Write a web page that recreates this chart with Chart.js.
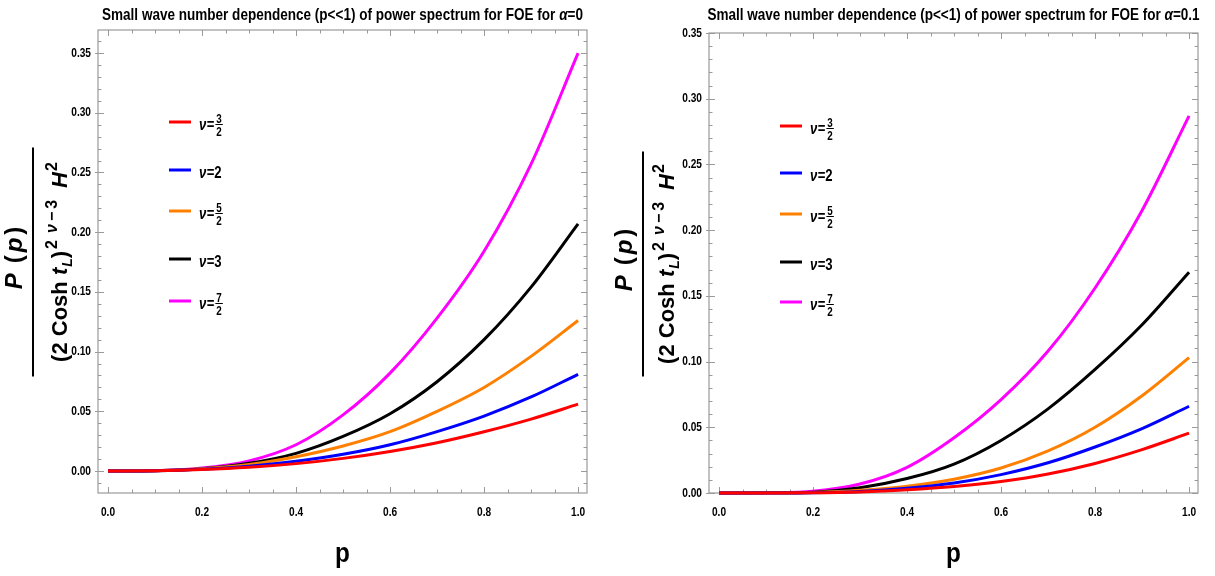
<!DOCTYPE html>
<html>
<head>
<meta charset="utf-8">
<script src="https://cdn.jsdelivr.net/npm/chart.js@4.4.1/dist/chart.umd.min.js"></script>
<style>
  html, body { margin: 0; padding: 0; background: #fff; }
  #wrap { position: relative; width: 1215px; height: 576px; overflow: hidden; }
  .panel { position: absolute; top: 0; }
</style>
</head>
<body>
<div id="wrap">
  <div class="panel" style="left:0"><canvas id="plotA" width="607" height="576"></canvas></div>
  <div class="panel" style="left:607px"><canvas id="plotB" width="608" height="576"></canvas></div>
</div>
<script>
// wave number p (both panels)
var pVals = [0, 0.1, 0.2, 0.3, 0.4, 0.5, 0.6, 0.7, 0.8, 0.9, 1.0];

// alpha = 0 (left panel)
var a0Nu32 = [0, 0.0002, 0.0012, 0.0031, 0.0062, 0.0106, 0.0164, 0.0237, 0.0329, 0.0435, 0.056];
var a0Nu2  = [0, 0.0003, 0.0014, 0.0040, 0.0082, 0.0140, 0.0220, 0.0330, 0.0460, 0.0620, 0.081];
var a0Nu52 = [0, 0.0003, 0.0019, 0.0055, 0.0120, 0.0210, 0.0330, 0.0500, 0.0700, 0.0960, 0.126];
var a0Nu3  = [0, 0.0003, 0.0020, 0.0065, 0.0148, 0.0290, 0.0480, 0.0748, 0.1100, 0.1540, 0.207];
var a0Nu72 = [0, 0.0003, 0.0025, 0.0085, 0.0220, 0.0470, 0.0820, 0.1280, 0.1840, 0.2570, 0.350];

// alpha = 0.1 (right panel)
var a1Nu32 = [0, 0, 0.0001, 0.0008, 0.0025, 0.0050, 0.0088, 0.0145, 0.0225, 0.0330, 0.0455];
var a1Nu2  = [0, 0, 0.0002, 0.0012, 0.0036, 0.0076, 0.0140, 0.0230, 0.0350, 0.0490, 0.066];
var a1Nu52 = [0, 0, 0.0004, 0.0020, 0.0052, 0.0105, 0.0190, 0.0320, 0.0500, 0.0740, 0.103];
var a1Nu3  = [0, 0.0001, 0.0006, 0.0040, 0.0110, 0.0220, 0.0400, 0.0640, 0.0940, 0.1280, 0.168];
var a1Nu72 = [0, 0.0002, 0.0013, 0.0068, 0.0195, 0.0420, 0.0710, 0.1080, 0.1560, 0.2150, 0.287];

var nuLabels = [['3', '2'], ['2'], ['5', '2'], ['3'], ['7', '2']];
var lineColors = ['#ff0000', '#0000ff', '#ff8000', '#000000', '#ff00ff'];
var xTicks = [0, 0.2, 0.4, 0.6, 0.8, 1.0];
var yTicks = [0, 0.05, 0.10, 0.15, 0.20, 0.25, 0.30, 0.35];
var alphaLabels = ['0', '0.1'];
var titleText = 'Small wave number dependence (p<<1) of power spectrum for FOE for ';

var SANS = "'Liberation Sans', Arial, sans-serif";
var NK = 0.82; // squeeze to mimic a narrow face (no Arial Narrow installed)

// draw a row of differently styled pieces; k squeezes it horizontally
function runs(ctx, parts, x, y, align, k) {
  k = k || 1;
  var w = 0;
  parts.forEach(function(r) {
    ctx.font = r.f;
    r.w = ctx.measureText(r.t).width;
    w += r.w + (r.gap || 0);
  });
  var x0 = align === 'center' ? x - w * k / 2 : align === 'right' ? x - w * k : x;
  ctx.save();
  ctx.translate(x0, y);
  ctx.scale(k, 1);
  ctx.textAlign = 'left';
  var cx = 0;
  parts.forEach(function(r) {
    ctx.font = r.f;
    ctx.fillText(r.t, cx, r.dy || 0);
    cx += r.w + (r.gap || 0);
  });
  ctx.restore();
  return w * k;
}

function toPoints(ys) {
  return pVals.map(function(p, i) { return { x: p, y: ys[i] }; });
}

// frame, ticks, tick labels, title, legend and axis titles
var decor = {
  id: 'decor',
  beforeDatasetsDraw: function(chart) {
    var ctx = chart.ctx, a = chart.chartArea;
    var xs = chart.scales.x, ys = chart.scales.y;
    ctx.save();
    ctx.strokeStyle = '#9a9a9a';
    ctx.lineWidth = 1.2;
    ctx.strokeRect(a.left, a.top, a.right - a.left, a.bottom - a.top);
    ctx.lineWidth = 1;
    var i, v, px, len;
    for (i = 0; i <= 20; i++) {
      v = i * 0.05;
      px = Math.round(xs.getPixelForValue(v)) + 0.5;
      len = i % 4 === 0 ? 6 : 3.5;
      ctx.beginPath();
      ctx.moveTo(px, a.bottom); ctx.lineTo(px, a.bottom - len);
      ctx.moveTo(px, a.top); ctx.lineTo(px, a.top + len);
      ctx.stroke();
    }
    for (i = -1; i <= 36; i++) {
      v = i * 0.01;
      if (v < ys.min - 1e-9 || v > ys.max + 1e-9) continue;
      px = Math.round(ys.getPixelForValue(v)) + 0.5;
      len = i % 5 === 0 ? 6 : 3.5;
      ctx.beginPath();
      ctx.moveTo(a.left, px); ctx.lineTo(a.left + len, px);
      ctx.moveTo(a.right, px); ctx.lineTo(a.right - len, px);
      if (i % 5 === 0) { ctx.moveTo(a.left, px); ctx.lineTo(a.left - 3, px); }
      ctx.stroke();
    }

    // tick labels
    ctx.fillStyle = '#000';
    ctx.textBaseline = 'middle';
    var tf = 'bold 13px ' + SANS;
    xs.ticks.forEach(function(t) {
      runs(ctx, [{ t: t.value.toFixed(1), f: tf }], xs.getPixelForValue(t.value), a.bottom + 19, 'center', 0.78);
    });
    ys.ticks.forEach(function(t) {
      runs(ctx, [{ t: t.value.toFixed(2), f: tf }], a.left - 7, ys.getPixelForValue(t.value), 'right', 0.78);
    });
    ctx.restore();
  },
  afterDraw: function(chart) {
    var ctx = chart.ctx, a = chart.chartArea, o = chart.options.plugins.decor;
    ctx.save();
    ctx.fillStyle = '#000';
    ctx.textBaseline = 'alphabetic';

    // title
    var hf = 'bold 16.5px ' + SANS;
    runs(ctx, [
      { t: titleText, f: hf },
      { t: '\u03b1', f: 'italic ' + hf },
      { t: '=' + o.alpha, f: hf }
    ], (a.left + a.right) / 2, o.titleY, 'center', NK);

    // x axis title
    runs(ctx, [{ t: 'p', f: 'bold 27px ' + SANS }], (a.left + a.right) / 2, 562, 'center', 0.9);

    // legend
    o.legendY.forEach(function(ly, k) {
      ctx.strokeStyle = lineColors[k];
      ctx.lineWidth = 3;
      ctx.beginPath();
      ctx.moveTo(o.legendX, ly); ctx.lineTo(o.legendX + 22, ly);
      ctx.stroke();
      var base = ly + 8;
      var lf = 'bold 16px ' + SANS;
      var lab = nuLabels[k];
      var w = runs(ctx, [
        { t: '\u03bd', f: 'italic ' + lf, gap: 0.5 },
        { t: lab.length === 1 ? '=' + lab[0] : '=', f: lf }
      ], o.legendX + 30, base, 'left', NK);
      if (lab.length === 2) {
        var fx = o.legendX + 30 + w + 1;
        var bar = base - 5.5;
        var df = 'bold 12px ' + SANS;
        var dw = runs(ctx, [{ t: lab[0], f: df }], fx + 1, bar - 2, 'left', NK);
        runs(ctx, [{ t: lab[1], f: df }], fx + 1, bar + 11, 'left', NK);
        ctx.strokeStyle = '#000';
        ctx.lineWidth = 1;
        ctx.beginPath();
        ctx.moveTo(fx, bar); ctx.lineTo(fx + dw + 2, bar);
        ctx.stroke();
      }
    });

    // y axis title: P(p) / ((2 Cosh t_L)^(2 nu - 3) H^2), rotated
    ctx.translate(o.barX, o.barY);
    ctx.rotate(-Math.PI / 2);
    ctx.strokeStyle = '#000';
    ctx.lineWidth = 2;
    ctx.beginPath();
    ctx.moveTo(-o.barLen / 2, 0); ctx.lineTo(o.barLen / 2, 0);
    ctx.stroke();
    var bf = 'bold 22px ' + SANS, bi = 'italic bold 22px ' + SANS;
    var sf = 'bold 16px ' + SANS, si = 'italic bold 16px ' + SANS;
    runs(ctx, [
      { t: 'P', f: 'italic bold 24px ' + SANS, gap: 10 },
      { t: '(', f: 'bold 24px ' + SANS, gap: 3 },
      { t: 'p', f: 'italic bold 24px ' + SANS, gap: 3 },
      { t: ')', f: 'bold 24px ' + SANS }
    ], 4, -11, 'center');
    runs(ctx, [
      { t: '(2 Cosh ', f: bf },
      { t: 't', f: bi, gap: 1 },
      { t: 'L', f: 'italic bold 14px ' + SANS, dy: 5 },
      { t: ')', f: bf, gap: 2 },
      { t: '2', f: sf, dy: -10, gap: 7 },
      { t: '\u03bd', f: si, dy: -10, gap: 3 },
      { t: '\u2212', f: sf, dy: -10, gap: 3 },
      { t: '3', f: sf, dy: -10, gap: 12 },
      { t: 'H', f: bi, gap: 1 },
      { t: '2', f: sf, dy: -10 }
    ], 0, o.denomY, 'center');
    ctx.restore();
  }
};

function makeChart(id, series, o) {
  var datasets = series.map(function(ys, k) {
    return {
      data: toPoints(ys),
      borderColor: lineColors[k],
      borderWidth: 3,
      pointRadius: 0,
      fill: false,
      cubicInterpolationMode: 'monotone',
      clip: false
    };
  });
  return new Chart(document.getElementById(id), {
    type: 'line',
    data: { datasets: datasets },
    options: {
      responsive: false,
      animation: false,
      layout: { padding: { top: o.padTop, right: o.padRight, left: 0, bottom: 0 } },
      plugins: {
        legend: { display: false },
        title: { display: false },
        tooltip: { enabled: false },
        decor: o
      },
      scales: {
        x: {
          type: 'linear',
          min: -0.0213,
          max: 1.019,
          grid: { display: false, drawTicks: false },
          border: { display: false },
          afterBuildTicks: function(s) { s.ticks = xTicks.map(function(v) { return { value: v }; }); },
          afterFit: function(s) { s.height = 83; },
          ticks: { display: false }
        },
        y: {
          type: 'linear',
          min: o.yMin,
          max: o.yMax,
          grid: { display: false, drawTicks: false },
          border: { display: false },
          afterBuildTicks: function(s) { s.ticks = yTicks.map(function(v) { return { value: v }; }); },
          afterFit: function(s) { s.width = o.yWidth; },
          ticks: { display: false }
        }
      }
    },
    plugins: [decor]
  });
}

makeChart('plotA', [a0Nu32, a0Nu2, a0Nu52, a0Nu3, a0Nu72], {
  alpha: alphaLabels[0], yMin: -0.0184, yMax: 0.3693,
  padTop: 30, padRight: 20, yWidth: 98, titleY: 20,
  legendX: 169, legendY: [122, 170, 211, 259, 301],
  barX: 33, barY: 262, barLen: 229, denomY: 34
});
makeChart('plotB', [a1Nu32, a1Nu2, a1Nu52, a1Nu3, a1Nu72], {
  alpha: alphaLabels[1], yMin: 0, yMax: 0.35,
  padTop: 33, padRight: 17, yWidth: 102, titleY: 20,
  legendX: 173, legendY: [126, 173, 214, 262, 302],
  barX: 36, barY: 264, barLen: 225, denomY: 31
});
</script>
</body>
</html>
